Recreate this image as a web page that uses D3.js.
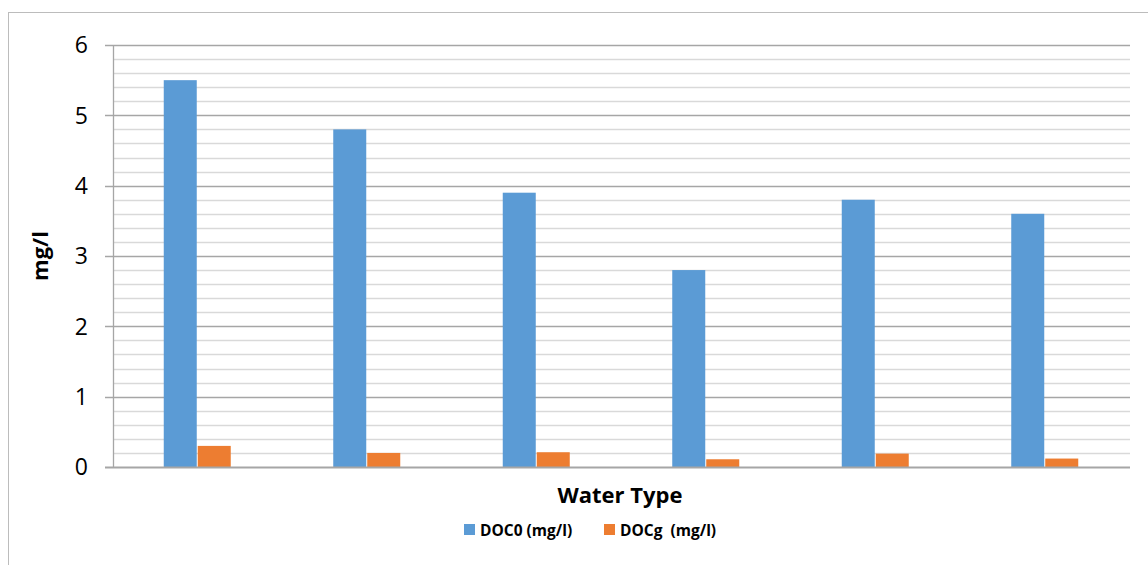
<!DOCTYPE html>
<html>
<head>
<meta charset="utf-8">
<script src="https://cdn.jsdelivr.net/npm/d3@7"></script>
<style>
  body { margin: 0; background: #fff; }
  text { font-family: "Open Sans", "Liberation Sans", sans-serif; }
</style>
</head>
<body>
<svg id="chart" width="1148" height="565"></svg>
<script>
// Chart data
const categories = ['W1', 'W2', 'W3', 'W4', 'W5', 'W6'];
const seriesNames = ['DOC0 (mg/l)', 'DOCg  (mg/l)'];
const doc0 = [5.5, 4.8, 3.9, 2.8, 3.8, 3.6];
const docg = [0.3, 0.2, 0.21, 0.11, 0.19, 0.12];
const yTicks = [0, 1, 2, 3, 4, 5, 6];

const COLORS = ['#5B9BD5', '#ED7D31'];

const svg = d3.select('#chart');

// outer frame
svg.append('rect')
  .attr('x', 8.5).attr('y', 12.5)
  .attr('width', 1160).attr('height', 570)
  .attr('fill', 'none')
  .attr('stroke', '#bcbcbc')
  .attr('stroke-width', 1);

const margin = { left: 113, right: 1130, top: 45, bottom: 467 };

const x = d3.scaleBand()
  .domain(categories)
  .range([margin.left, margin.right])
  .padding(0);

const y = d3.scaleLinear()
  .domain([0, 6])
  .range([margin.bottom, margin.top]);

// minor gridlines every 0.2
const minor = d3.range(0, 30).map(i => i * 0.2).filter(v => Math.abs(v - Math.round(v)) > 1e-6);
svg.append('g').selectAll('line')
  .data(minor)
  .join('line')
  .attr('x1', margin.left).attr('x2', margin.right)
  .attr('y1', d => Math.round(y(d)) + 0.5).attr('y2', d => Math.round(y(d)) + 0.5)
  .attr('stroke', '#d9d9d9')
  .attr('stroke-width', 1.3);

// major gridlines
svg.append('g').selectAll('line')
  .data(yTicks.filter(d => d > 0))
  .join('line')
  .attr('x1', margin.left - 8).attr('x2', margin.right)
  .attr('y1', d => Math.round(y(d)) + 0.5).attr('y2', d => Math.round(y(d)) + 0.5)
  .attr('stroke', '#a6a6a6')
  .attr('stroke-width', 1.3);

// y axis line
svg.append('line')
  .attr('x1', margin.left + 0.5).attr('x2', margin.left + 0.5)
  .attr('y1', margin.top).attr('y2', margin.bottom)
  .attr('stroke', '#a6a6a6')
  .attr('stroke-width', 1.3);

// bars
const groupW = 68;
const x1 = d3.scaleBand().domain(seriesNames).range([0, groupW]).padding(0);
const rows = categories.map((c, i) => ({ c, vals: [doc0[i], docg[i]] }));

const groups = svg.append('g').selectAll('g')
  .data(rows)
  .join('g')
  .attr('transform', d => `translate(${x(d.c) + x.bandwidth() / 2 - groupW / 2},0)`);

groups.selectAll('rect')
  .data(d => d.vals.map((v, j) => ({ v, s: seriesNames[j], j })))
  .join('rect')
  .attr('x', d => x1(d.s))
  .attr('width', x1.bandwidth() - 1)
  .attr('y', d => y(d.v))
  .attr('height', d => y(0) - y(d.v))
  .attr('fill', d => COLORS[d.j]);

// baseline
svg.append('line')
  .attr('x1', margin.left - 8).attr('x2', margin.right)
  .attr('y1', y(0) + 0.5).attr('y2', y(0) + 0.5)
  .attr('stroke', '#a6a6a6')
  .attr('stroke-width', 2);

// y tick labels
svg.append('g').selectAll('text')
  .data(yTicks)
  .join('text')
  .attr('x', 88)
  .attr('y', d => y(d))
  .attr('dy', '0.36em')
  .attr('text-anchor', 'end')
  .attr('font-size', 23)
  .attr('fill', '#000')
  .text(d => d);

// axis titles
svg.append('text')
  .attr('transform', `translate(48,${(margin.top + margin.bottom) / 2}) rotate(-90)`)
  .attr('text-anchor', 'middle')
  .attr('font-size', 22)
  .attr('font-weight', 'bold')
  .text('mg/l');

svg.append('text')
  .attr('x', 620).attr('y', 503)
  .attr('text-anchor', 'middle')
  .attr('font-size', 22)
  .attr('font-weight', 'bold')
  .text('Water Type');

// legend
const legendX = [464, 604];
const legend = svg.append('g').selectAll('g')
  .data(seriesNames)
  .join('g')
  .attr('transform', (d, i) => `translate(${legendX[i]},524)`);

legend.append('rect')
  .attr('width', 11).attr('height', 11)
  .attr('fill', (d, i) => COLORS[i]);

legend.append('text')
  .attr('x', 16).attr('y', 11.5)
  .attr('font-size', 15.5)
  .attr('font-weight', 'bold')
  .attr('xml:space', 'preserve')
  .style('white-space', 'pre')
  .text(d => d);
</script>
</body>
</html>
